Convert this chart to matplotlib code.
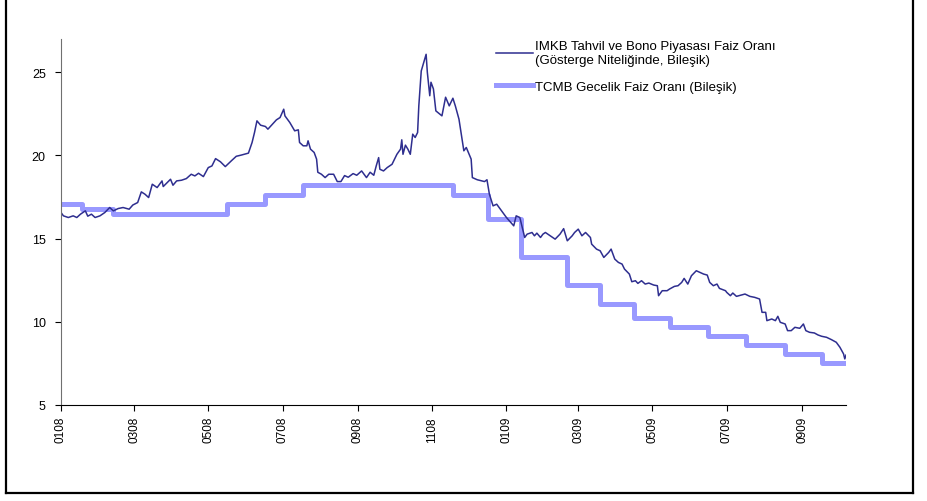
import numpy as np
import pandas as pd
import matplotlib
matplotlib.use("Agg")
import matplotlib.pyplot as plt
from matplotlib.lines import Line2D

plt.rcParams['font.family'] = ['Liberation Sans', 'DejaVu Sans']

start = pd.Timestamp('2008-01-01')

# IMKB bond market rate, days since 2008-01-01 and value (%)
imkb_day = [0, 2, 6, 10, 13, 16, 20, 22, 25, 28, 32, 36, 40, 43, 47, 51, 56, 59, 63, 66,
            69, 72, 75, 79, 83, 84, 90, 92, 95, 99, 103, 107, 110, 113, 117, 121, 124, 127, 131, 135,
            140, 144, 148, 154, 157, 159, 161, 164, 168, 170, 173, 177, 180, 183, 184, 188, 192, 195, 196, 199,
            202, 203, 205, 208, 210, 211, 214, 217, 220, 224, 227, 230, 233, 236, 240, 243, 247, 251, 254, 257,
            259, 261, 262, 265, 268, 272, 276, 279, 280, 281, 283, 285, 287, 289, 291, 293, 294, 296, 300, 301,
            303, 304, 306, 308, 313, 316, 319, 322, 324, 327, 331, 333, 337, 338, 342, 348, 350, 352, 355, 358,
            362, 366, 372, 374, 377, 381, 383, 387, 389, 391, 394, 396, 398, 402, 406, 410, 413, 416, 420, 422,
            425, 428, 431, 435, 436, 440, 443, 446, 450, 452, 455, 458, 461, 463, 467, 469, 472, 474, 477, 480,
            483, 487, 490, 491, 494, 498, 500, 504, 507, 510, 512, 515, 518, 522, 525, 528, 531, 533, 536, 539,
            541, 546, 547, 550, 552, 555, 559, 562, 566, 570, 574, 576, 579, 580, 584, 587, 589, 591, 595, 597,
            600, 603, 607, 610, 612, 615, 619, 622, 625, 629, 633, 637, 640, 643, 644, 645]
imkb_val = [16.57, 16.37, 16.27, 16.37, 16.27, 16.47, 16.67, 16.35, 16.47, 16.27, 16.37, 16.57, 16.87, 16.67, 16.81, 16.87, 16.77, 17.02, 17.17, 17.81,
            17.67, 17.47, 18.27, 18.07, 18.47, 18.13, 18.57, 18.21, 18.47, 18.51, 18.61, 18.87, 18.77, 18.93, 18.73, 19.27, 19.37, 19.81, 19.62, 19.33,
            19.68, 19.95, 20.02, 20.14, 20.78, 21.38, 22.08, 21.82, 21.74, 21.58, 21.82, 22.14, 22.28, 22.78, 22.38, 21.98, 21.48, 21.54, 20.78, 20.58,
            20.58, 20.88, 20.38, 20.18, 19.78, 18.99, 18.87, 18.67, 18.87, 18.87, 18.43, 18.43, 18.79, 18.69, 18.91, 18.81, 19.07, 18.67, 18.99, 18.81,
            19.37, 19.87, 19.17, 19.07, 19.27, 19.47, 20.07, 20.38, 20.94, 20.07, 20.62, 20.38, 20.07, 21.28, 21.08, 21.38, 22.98, 25.08, 26.08, 25.00,
            23.59, 24.40, 24.00, 22.68, 22.38, 23.50, 22.98, 23.44, 22.98, 22.18, 20.28, 20.48, 19.78, 18.67, 18.54, 18.43, 18.54, 17.67, 16.97, 17.07,
            16.67, 16.27, 15.77, 16.37, 16.27, 15.07, 15.27, 15.37, 15.17, 15.33, 15.07, 15.27, 15.37, 15.17, 14.97, 15.27, 15.60, 14.87, 15.17, 15.37,
            15.57, 15.17, 15.37, 15.07, 14.67, 14.37, 14.27, 13.87, 14.17, 14.37, 13.77, 13.57, 13.47, 13.17, 12.87, 12.41, 12.47, 12.31, 12.47, 12.27,
            12.33, 12.21, 12.17, 11.57, 11.87, 11.87, 11.97, 12.13, 12.17, 12.37, 12.61, 12.27, 12.77, 13.07, 12.97, 12.87, 12.81, 12.37, 12.17, 12.27,
            12.01, 11.87, 11.77, 11.57, 11.73, 11.53, 11.61, 11.67, 11.53, 11.47, 11.37, 10.57, 10.57, 10.07, 10.17, 10.07, 10.33, 9.97, 9.87, 9.47,
            9.47, 9.67, 9.61, 9.87, 9.47, 9.37, 9.33, 9.21, 9.13, 9.07, 8.93, 8.77, 8.47, 8.07, 7.77, 8.00]

# TCMB overnight rate (compounded), change days and levels
tcmb_day = [0, 17, 43, 136, 168, 199, 322, 351, 378, 416, 443, 471, 500, 532, 563, 595, 625, 645]
tcmb_val = [17.06, 16.77, 16.47, 17.06, 17.64, 18.24, 17.64, 16.18, 13.88, 12.19, 11.07, 10.24, 9.69, 9.14, 8.60, 8.06, 7.52, 7.52]

tick_dates = pd.date_range('2008-01-01', '2009-09-01', freq='2MS')
tick_labels = [d.strftime('%m%y') for d in tick_dates]

imkb_x = start + pd.to_timedelta(imkb_day, unit='D')
tcmb_x = start + pd.to_timedelta(tcmb_day, unit='D')

fig = plt.figure(figsize=(9.28, 5.02), dpi=100)
ax = fig.add_axes([61/928, 1-406/502, (846-61)/928, (406-40)/502])

ax.plot(imkb_x, imkb_val, color='#2E2E8F', lw=1.1,
        label='IMKB Tahvil ve Bono Piyasası Faiz Oranı\n(Gösterge Niteliğinde, Bileşik)')
ax.plot(tcmb_x, tcmb_val, color='#9999FF', lw=3.6, drawstyle='steps-post',
        label='TCMB Gecelik Faiz Oranı (Bileşik)', zorder=1)

ax.set_xlim(start, start + pd.Timedelta(days=645))
ax.set_ylim(5, 27)
ax.set_yticks([5, 10, 15, 20, 25])
ax.set_xticks(tick_dates)
ax.set_xticklabels(tick_labels, rotation=90, fontsize=8.5)
ax.tick_params(axis='y', labelsize=9, direction='out', length=4, width=0.8, pad=7)
ax.tick_params(axis='x', direction='out', length=4, width=0.8, pad=4)

for s in ['top', 'right']:
    ax.spines[s].set_visible(False)
ax.spines['left'].set_color('#707070')
ax.spines['bottom'].set_color('black')

ax.legend(loc='upper left', bbox_to_anchor=(484/928, 1-29/502), bbox_transform=fig.transFigure,
          frameon=False, fontsize=9.5, handlelength=2.8, handletextpad=0.2, labelspacing=1.15)

# outer frame (left, bottom, right)
for xs, ys in [([6, 6], [0, 494]), ([6, 913], [494, 494]), ([913, 913], [494, 0])]:
    fig.add_artist(Line2D([x/928 for x in xs], [1-y/502 for y in ys], color='black', lw=1.6,
                          transform=fig.transFigure))

fig.savefig('out.png', dpi=100)
